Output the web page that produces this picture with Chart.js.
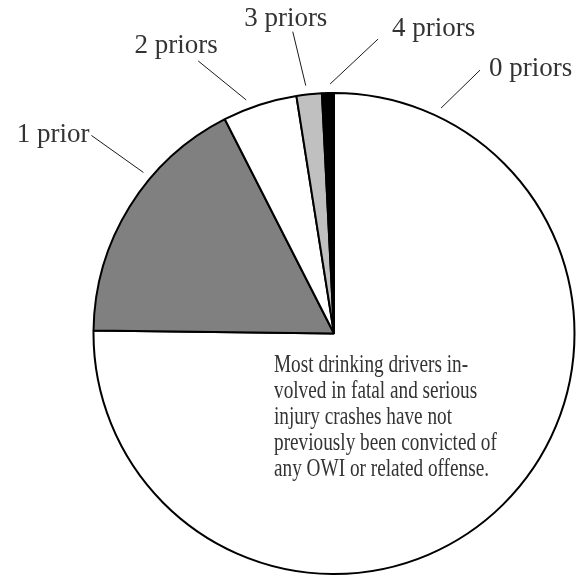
<!DOCTYPE html>
<html>
<head>
<meta charset="utf-8">
<script src="https://cdn.jsdelivr.net/npm/chart.js@4/dist/chart.umd.min.js"></script>
<style>
  html, body { margin: 0; padding: 0; background: #ffffff; }
  #wrap { width: 584px; height: 575px; position: relative; }
</style>
</head>
<body>
<div id="wrap"><canvas id="c" width="584" height="575"></canvas></div>
<script>
// ---- data ----
const categories = ["0 priors", "1 prior", "2 priors", "3 priors", "4 priors"];
const shares = [75.2, 17.3, 5.0, 1.7, 0.8];
const sliceColors = ["#ffffff", "#808080", "#ffffff", "#c0c0c0", "#000000"];
const noteLines = [
  "Most drinking drivers in-",
  "volved in fatal and serious",
  "injury crashes have not",
  "previously been convicted of",
  "any OWI or related offense."
];

// label leader style: angle (deg clockwise from top) where the leader starts,
// leader vector, text offset from leader end, alignment
const labelStyle = [
  { angle: 25.4, dx: 39, dy: -38, tx: 9, ty: 6, align: "left" },
  { angle: -49.8, dx: -52, dy: -37, tx: -2, ty: 7, align: "right" },
  { angle: -20.6, dx: -48, dy: -39, tx: -22, ty: -8, align: "center" },
  { angle: -6.5, dx: -13, dy: -54, tx: -7, ty: -6, align: "center" },
  { angle: -0.9, dx: 48, dy: -45, tx: 14, ty: -3, align: "left" }
];

const labelPlugin = {
  id: "leaderLabels",
  afterDatasetsDraw(chart) {
    const ctx = chart.ctx;
    const arc = chart.getDatasetMeta(0).data[0];
    const cx = arc.x, cy = arc.y, r = arc.outerRadius;
    ctx.save();
    ctx.strokeStyle = "#1a1a1a";
    ctx.lineWidth = 1;
    ctx.fillStyle = "#333333";
    ctx.font = "27px 'Liberation Serif', serif";
    ctx.textBaseline = "alphabetic";
    categories.forEach((name, i) => {
      const s = labelStyle[i];
      const a = s.angle * Math.PI / 180;
      const x0 = cx + (r + 9) * Math.sin(a);
      const y0 = cy - (r + 9) * Math.cos(a);
      const x1 = x0 + s.dx, y1 = y0 + s.dy;
      ctx.beginPath();
      ctx.moveTo(x0, y0);
      ctx.lineTo(x1, y1);
      ctx.stroke();
      ctx.textAlign = s.align;
      ctx.fillText(name, x1 + s.tx, y1 + s.ty);
    });
    // annotation inside the big slice
    ctx.textAlign = "left";
    ctx.font = "25px 'Liberation Serif', serif";
    const left = cx - 60, top = cy + 38, step = 26.2;
    noteLines.forEach((t, i) => {
      ctx.save();
      ctx.translate(left, top + i * step);
      ctx.scale(0.77, 1);
      ctx.fillText(t, 0, 0);
      ctx.restore();
    });
    ctx.restore();
  }
};

new Chart(document.getElementById("c"), {
  type: "pie",
  data: {
    labels: categories,
    datasets: [{
      data: shares,
      backgroundColor: sliceColors,
      borderColor: "#000000",
      borderWidth: 2
    }]
  },
  options: {
    responsive: false,
    animation: false,
    layout: { padding: { top: 92, bottom: -1, left: 92, right: 8 } },
    plugins: {
      legend: { display: false },
      tooltip: { enabled: false }
    }
  },
  plugins: [labelPlugin]
});
</script>
</body>
</html>
